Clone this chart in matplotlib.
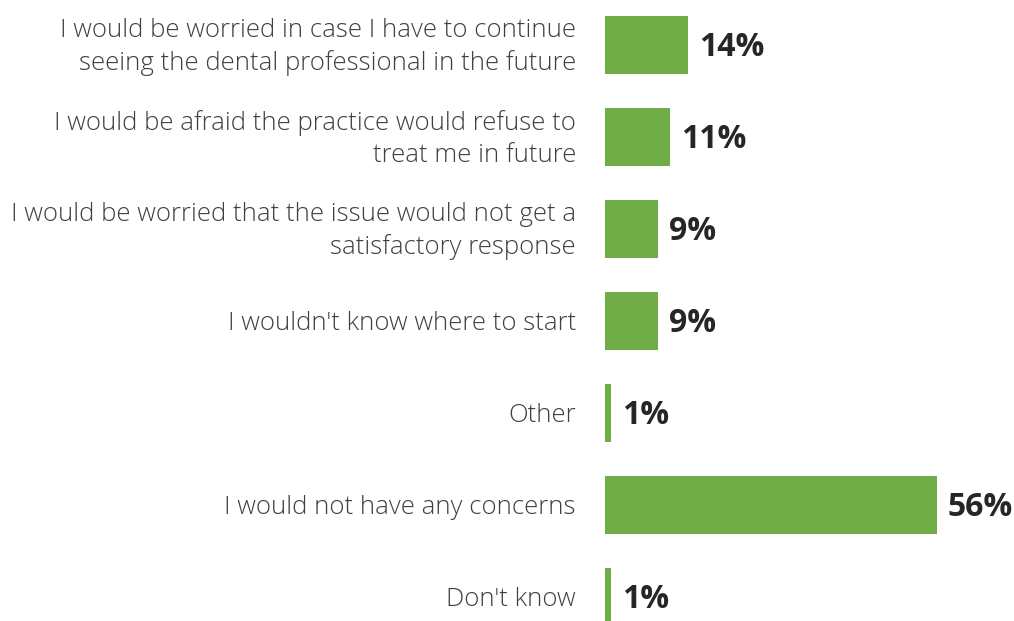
import matplotlib.pyplot as plt

plt.rcParams['font.family'] = ['Open Sans', 'DejaVu Sans']

categories = [
    "I would be worried in case I have to continue\nseeing the dental professional in the future",
    "I would be afraid the practice would refuse to\ntreat me in future",
    "I would be worried that the issue would not get a\nsatisfactory response",
    "I wouldn't know where to start",
    "Other",
    "I would not have any concerns",
    "Don't know",
]
values = [14, 11, 9, 9, 1, 56, 1]

fig = plt.figure(figsize=(10.14, 6.21), dpi=100)
ax = fig.add_axes([605 / 1014, 0, 409 / 1014, 1])

pos = list(range(len(values)))
ax.barh(pos, values, height=0.64, color='#70AD47')

ax.set_xlim(0, 409 / 5.93)
ax.set_ylim((621 - 45) / 92, -45 / 92)
ax.axis('off')

for y, v, lab in zip(pos, values, categories):
    ax.text(v + 1.8, y + 0.03, f"{v}%", va='center', ha='left',
            fontsize=23, fontweight='bold', color='#262626')
    ax.annotate(lab, xy=(0, y), xytext=(-29, -2), textcoords='offset pixels',
                ha='right', va='center', fontsize=18.5, color='#404040',
                fontweight='light', linespacing=1.4, annotation_clip=False)

fig.savefig('out.png', dpi=100)
